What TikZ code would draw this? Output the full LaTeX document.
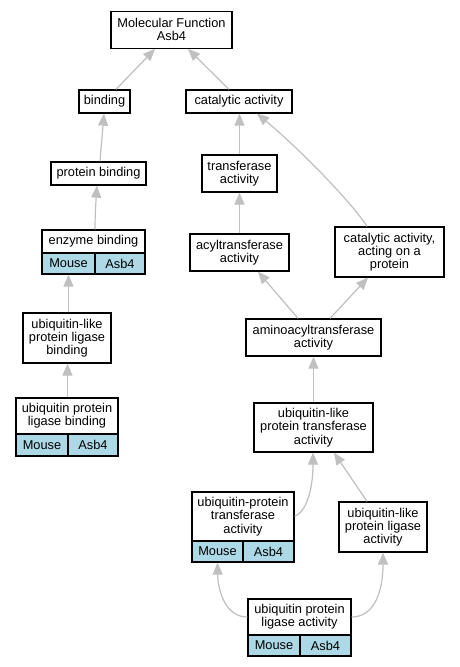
\documentclass[tikz,border=0pt]{standalone}
\usepackage{fontspec}
\setmainfont{Liberation Sans}
\usetikzlibrary{arrows.meta,calc}
\definecolor{edgegray}{HTML}{C0C0C0}
\definecolor{cellblue}{HTML}{ADD8E6}
\begin{document}
\begin{tikzpicture}[x=1pt,y=-1pt,
  box/.style n args={2}{draw=black, line width=1.3pt, fill=white, inner sep=0pt, align=center,
     font=\fontsize{12.8}{13.3}\selectfont, minimum width=#1pt, minimum height=#2pt},
  cell/.style n args={2}{box={#1}{#2}, fill=cellblue},
  edge/.style={draw=edgegray, line width=1.2pt, -{Triangle[length=12pt,width=10pt]}}]
\useasboundingbox[fill=white] (0,0) rectangle (459,667);

% nodes
\node[box={121}{37}] (mf) at (171.5,29.75) {Molecular Function\\Asb4};
\node[box={51}{23}] (bind) at (104.5,101.5) {binding};
\node[box={106}{23}] (cat) at (239,101.5) {catalytic activity};
\node[box={95}{23}] (pb) at (98.5,173.5) {protein binding};
\node[box={75}{37}] (trans) at (239.5,173.5) {transferase\\activity};
\node[box={103}{23}] (eb) at (93.5,241.5) {enzyme binding};
\node[cell={53}{21}] (ebm) at (68.5,263.5) {Mouse};
\node[cell={50}{21}] (eba) at (120,263.5) {Asb4};
\node[box={99}{37}] (acyl) at (239.5,252.5) {acyltransferase\\activity};
\node[box={109}{50}] (cap) at (389.5,252) {catalytic activity,\\acting on a\\protein};
\node[box={88}{50}] (ullb) at (67,338) {ubiquitin-like\\protein ligase\\binding};
\node[box={102}{36}] (uplb) at (67,416) {ubiquitin protein\\ligase binding};
\node[cell={52}{22}] (uplbm) at (42,445) {Mouse};
\node[cell={50}{22}] (uplba) at (93,445) {Asb4};
\node[box={135}{37}] (amino) at (313.5,337.5) {aminoacyltransferase\\activity};
\node[box={119}{49}] (ultr) at (313.5,427.5) {ubiquitin-like\\protein transferase\\activity};
\node[box={102}{49}] (uptr) at (243,516.5) {ubiquitin-protein\\transferase\\activity};
\node[cell={51}{21}] (uptrm) at (217.5,551.5) {Mouse};
\node[cell={51}{21}] (uptra) at (268.5,551.5) {Asb4};
\node[box={88}{50}] (ulla) at (383,527) {ubiquitin-like\\protein ligase\\activity};
\node[box={103}{36}] (upla) at (299.5,617) {ubiquitin protein\\ligase activity};
\node[cell={52}{21}] (uplam) at (274,645.5) {Mouse};
\node[cell={51}{21}] (uplaa) at (325.5,645.5) {Asb4};

% edges
\draw[edge] ($(bind.north)+(11.5,0)$) -- ($(mf.south)+(-16.5,0)$);
\draw[edge] ($(cat.north)+(-10,0)$) -- ($(mf.south)+(16.5,0)$);
\draw[edge] ($(pb.north)+(1.5,0)$) -- ($(bind.south)+(-0.5,0)$);
\draw[edge] (trans.north) -- (cat.south -| trans.north);
\draw[edge] ($(cap.north)+(-22.5,0)$) .. controls (350,200) and (295,145) .. ($(cat.south)+(18,0)$);
\draw[edge] ($(eb.north)+(1.5,0)$) .. controls (95,215) and (96,200) .. ($(pb.south)+(-1.5,0)$);
\draw[edge] (acyl.north) -- (trans.south);
\draw[edge] (ullb.north -| ebm.south) -- (ebm.south);
\draw[edge] ($(uplb.north)+(0.5,0)$) -- ($(ullb.south)+(0.5,0)$);
\draw[edge] ($(amino.north)+(-15.5,0)$) -- ($(acyl.south)+(18.5,0)$);
\draw[edge] ($(amino.north)+(16.5,0)$) -- ($(cap.south)+(-21.5,0)$);
\draw[edge] (ultr.north) -- (amino.south);
\draw[edge] (uptr.east) .. controls (306,512) and (313,490) .. ($(ultr.south)+(-0.5,0)$);
\draw[edge] ($(ulla.north)+(-16,0)$) -- ($(ultr.south)+(20.5,0)$);
\draw[edge] (upla.west) .. controls (226,617) and (218,592) .. (uptrm.south);
\draw[edge] (upla.east) .. controls (374,617) and (383,592) .. (ulla.south);
\end{tikzpicture}
\end{document}
